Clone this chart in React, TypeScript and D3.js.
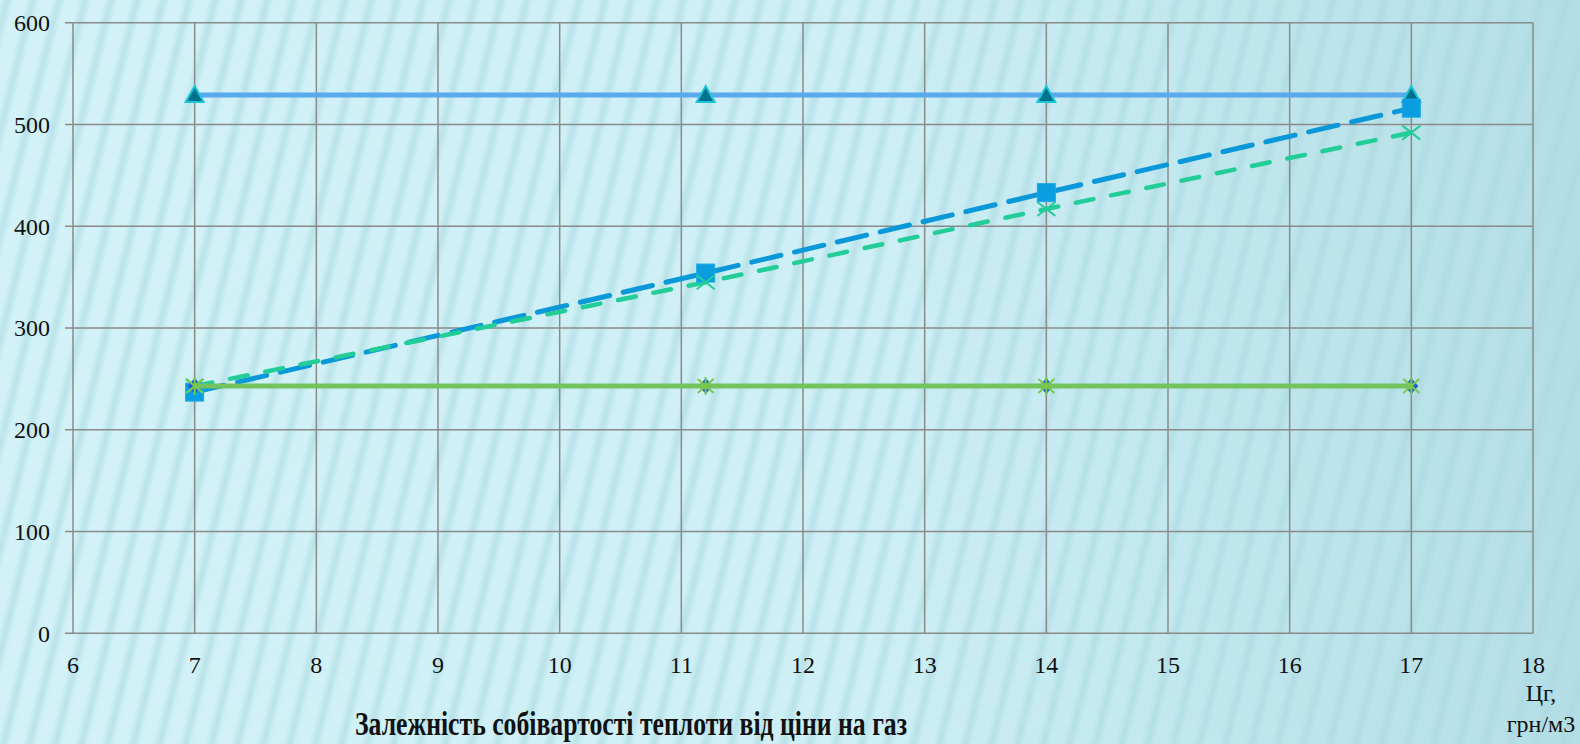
import React from "react";
import * as d3 from "d3";

const xValues = [7, 11.2, 14, 17];
const triangleSeries = [529, 529, 529, 529];
const squareSeries = [237, 354, 433, 516];
const crossSeries = [243, 345, 417, 492];
const diamondSeries = [243, 243, 243, 243];
const starSeries = [243, 243, 243, 243];
const xTicks = [6, 7, 8, 9, 10, 11, 12, 13, 14, 15, 16, 17, 18];
const yTicks = [0, 100, 200, 300, 400, 500, 600];
const title = "Залежність собівартості теплоти від ціни на газ";
const xLabel1 = "Цг,";
const xLabel2 = "грн/м3";

const W = 1580, H = 744;
const L = 73, R = 1533, T = 22.7, B = 633.3;

export default function App() {
  const x = d3.scaleLinear().domain([6, 18]).range([L, R]);
  const y = d3.scaleLinear().domain([0, 600]).range([B, T]);
  const line = d3.line<number>().x((_, i) => x(xValues[i])).y((d) => y(d));
  const font = '"Liberation Serif", "DejaVu Serif", serif';
  const ts = { fontFamily: font };

  const tri = (cx: number, cy: number, k: string) => (
    <path key={k} d={`M${cx},${cy - 9} L${cx + 9},${cy + 7} L${cx - 9},${cy + 7} Z`} fill="#00708f" stroke="#1cc6d8" strokeWidth={2} />
  );
  const sq = (cx: number, cy: number, k: string) => (
    <rect key={k} x={cx - 9} y={cy - 9} width={18} height={18} fill="#0a9de0" stroke="#1fa8e6" strokeWidth={1} />
  );
  const cross = (cx: number, cy: number, k: string, c: string) => (
    <path key={k} d={`M${cx - 9},${cy - 7} L${cx + 9},${cy + 7} M${cx - 9},${cy + 7} L${cx + 9},${cy - 7}`} stroke={c} strokeWidth={2} />
  );
  const star = (cx: number, cy: number, k: string) => (
    <path key={k} d={`M${cx - 8},${cy - 7} L${cx + 8},${cy + 7} M${cx - 8},${cy + 7} L${cx + 8},${cy - 7} M${cx},${cy - 9} L${cx},${cy + 9}`} stroke="#7cc94a" strokeWidth={2} />
  );
  const diamond = (cx: number, cy: number, k: string) => (
    <path key={k} d={`M${cx},${cy - 8} L${cx + 7},${cy} L${cx},${cy + 8} L${cx - 7},${cy} Z`} fill="#1d63cf" />
  );

  return (
    <svg width={W} height={H} style={{ position: "absolute", left: 0, top: 0, fontFamily: font }}>
      <defs>
        <linearGradient id="bg" x1="0" x2="1" y1="0" y2="0">
          <stop offset="0" stopColor="#d2f2f7" />
          <stop offset="0.55" stopColor="#cdeff5" />
          <stop offset="1" stopColor="#b4dee6" />
        </linearGradient>
        <linearGradient id="st" x1="0" x2="1" y1="0" y2="0">
          <stop offset="0" stopColor="#a7d6de" stopOpacity="0" />
          <stop offset="0.5" stopColor="#a7d6de" stopOpacity="0.55" />
          <stop offset="1" stopColor="#a7d6de" stopOpacity="0" />
        </linearGradient>
        <pattern id="stripes" width="26" height="744" patternUnits="userSpaceOnUse" patternTransform="skewX(-14)">
          <rect x="0" y="0" width="14" height="744" fill="url(#st)" />
        </pattern>
      </defs>
      <rect x={0} y={0} width={W} height={H} fill="url(#bg)" />
      <rect x={0} y={0} width={W} height={H} fill="url(#stripes)" />

      {xTicks.map((t) => (
        <line key={"gx" + t} x1={x(t)} x2={x(t)} y1={T} y2={B} stroke="#8a8a8a" strokeWidth={1.5} />
      ))}
      {yTicks.map((t) => (
        <line key={"gy" + t} x1={L - 8} x2={R} y1={y(t)} y2={y(t)} stroke="#8a8a8a" strokeWidth={1.5} />
      ))}

      {yTicks.map((t) => (
        <text key={"ty" + t} x={50} y={y(t)} dy="0.35em" textAnchor="end" fontSize={24} fill="#111" style={ts}>{t}</text>
      ))}
      {xTicks.map((t) => (
        <text key={"tx" + t} x={x(t)} y={665} dy="0.35em" textAnchor="middle" fontSize={24} fill="#111" style={ts}>{t}</text>
      ))}

      <path d={line(triangleSeries) || ""} fill="none" stroke="#5aa8ee" strokeWidth={5} />
      <path d={line(squareSeries) || ""} fill="none" stroke="#0a98d8" strokeWidth={5} strokeDasharray="30 14" strokeLinecap="round" />
      <path d={line(crossSeries) || ""} fill="none" stroke="#22cd98" strokeWidth={4.5} strokeDasharray="18 18" strokeLinecap="round" />
      {triangleSeries.map((v, i) => tri(x(xValues[i]), y(v), "t" + i))}
      {squareSeries.map((v, i) => sq(x(xValues[i]), y(v), "s" + i))}
      {crossSeries.map((v, i) => cross(x(xValues[i]), y(v), "c" + i, "#22cd98"))}
      <path d={line(diamondSeries) || ""} fill="none" stroke="#1d63cf" strokeWidth={3} />
      {diamondSeries.map((v, i) => diamond(x(xValues[i]), y(v), "d" + i))}
      <path d={line(starSeries) || ""} fill="none" stroke="#73c45c" strokeWidth={5} />
      {starSeries.map((v, i) => star(x(xValues[i]), y(v), "st" + i))}

      <text x={355} y={735} fontSize={33} fontWeight="bold" fill="#111" style={ts} textLength={552} lengthAdjust="spacingAndGlyphs">{title}</text>
      <text x={1541} y={701} textAnchor="middle" fontSize={24} fill="#111" style={ts}>{xLabel1}</text>
      <text x={1541} y={732} textAnchor="middle" fontSize={24} fill="#111" style={ts}>{xLabel2}</text>
    </svg>
  );
}
